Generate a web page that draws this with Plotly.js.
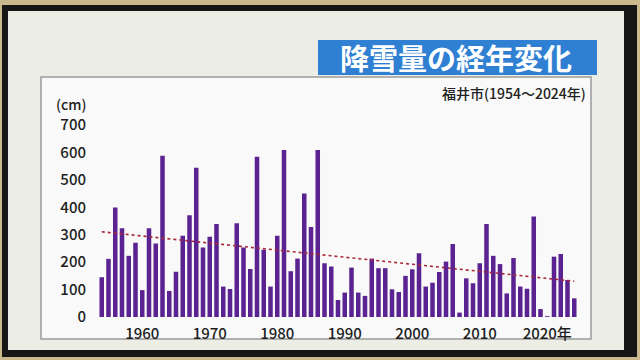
<!DOCTYPE html>
<html>
<head>
<meta charset="utf-8">
<script src="https://cdn.plot.ly/plotly-3.0.1.min.js"></script>
<style>
html,body{margin:0;padding:0;background:#cbb98e;}
#chart{width:640px;height:360px;}
</style>
</head>
<body>
<div id="chart"></div>
<script>
// 福井市 降雪量 (cm), 1954-2024
const years = [];
for (let y = 1954; y <= 2024; y++) years.push(y);
const snowfall = [
  145, 212, 399, 324, 223, 271, 98, 324, 268, 588,   // 1954-1963
  95, 165, 296, 371, 544, 253, 293, 339, 111, 102,   // 1964-1973
  342, 253, 175, 584, 245, 111, 296, 609, 167, 213,  // 1974-1983
  450, 328, 609, 196, 184, 62, 89, 180, 89, 77,      // 1984-1993
  213, 178, 178, 101, 91, 150, 174, 232, 111, 125,   // 1994-2003
  164, 202, 266, 16, 141, 123, 196, 339, 223, 193,   // 2004-2013
  86, 215, 111, 103, 366, 29, 3, 220, 230, 135,      // 2014-2023
  68                                                 // 2024
];
const tickYears = [1960, 1970, 1980, 1990, 2000, 2010, 2020];
const tickLabels = ['1960', '1970', '1980', '1990', '2000', '2010', '2020年'];
const yTicks = [0, 100, 200, 300, 400, 500, 600, 700];

const titleText = '降雪量の経年変化';
const subtitleText = '福井市(1954～2024年)';
const unitText = '(cm)';

// linear trend (least squares)
const n = years.length;
const mx = years.reduce((a, b) => a + b, 0) / n;
const my = snowfall.reduce((a, b) => a + b, 0) / n;
let sxy = 0, sxx = 0;
for (let i = 0; i < n; i++) { sxy += (years[i] - mx) * (snowfall[i] - my); sxx += (years[i] - mx) ** 2; }
const slope = sxy / sxx;
const trendX = [years[0], years[n - 1]];
const trendY = trendX.map(x => my + slope * (x - mx));

const W = 640, H = 360;
const px = v => v / W;
const py = v => 1 - v / H;
const FONT = '"Noto Sans CJK JP", "Noto Sans", sans-serif';

const shapes = [
  {type:'rect', xref:'paper', yref:'paper', x0:px(2), x1:px(637), y0:py(357), y1:py(5), fillcolor:'#161616', line:{width:0}, layer:'below'},
  {type:'rect', xref:'paper', yref:'paper', x0:px(8), x1:px(624), y0:py(350), y1:py(11), fillcolor:'#eceee6', line:{width:0}, layer:'below'},
  {type:'rect', xref:'paper', yref:'paper', x0:px(41), x1:px(591), y0:py(339), y1:py(77), fillcolor:'#f8f9f8', line:{color:'#9a9a9a', width:1.5}, layer:'below'},
  {type:'rect', xref:'paper', yref:'paper', x0:px(318), x1:px(597), y0:py(75), y1:py(40), fillcolor:'#2f7fd2', line:{width:0}, layer:'below'}
];

const annotations = [
  {xref:'paper', yref:'paper', x:px(456), y:py(57), text:'<b>' + titleText + '</b>', showarrow:false,
   xanchor:'center', yanchor:'middle', font:{family:FONT, size:29, color:'#ffffff'}},
  {xref:'paper', yref:'paper', x:px(588), y:py(93), text:subtitleText, showarrow:false,
   xanchor:'right', yanchor:'middle', font:{family:FONT, size:14, weight:500, color:'#222222'}},
  {xref:'paper', yref:'paper', x:px(54), y:py(104), text:unitText, showarrow:false,
   xanchor:'left', yanchor:'middle', font:{family:FONT, size:14, weight:500, color:'#222222'}}
];

const data = [
  {type:'bar', x:years, y:snowfall, marker:{color:'#5b2391'}, hoverinfo:'x+y'},
  {type:'scatter', mode:'lines', x:trendX, y:trendY, line:{color:'#a8283a', width:1.6, dash:'dot'}, hoverinfo:'skip'}
];

const layout = {
  width: W, height: H,
  margin:{l:0, r:0, t:0, b:0},
  paper_bgcolor:'#cbb98e',
  plot_bgcolor:'rgba(0,0,0,0)',
  showlegend:false,
  bargap:0.33,
  xaxis:{
    domain:[px(95), px(581)],
    range:[1953, 2025],
    tickvals:tickYears, ticktext:tickLabels,
    showgrid:false, zeroline:false, showline:false,
    ticks:'outside', ticklen:3, tickcolor:'rgba(0,0,0,0)',
    tickfont:{family:FONT, size:15, weight:500, color:'#1e1e1e'},
    automargin:false, fixedrange:true
  },
  yaxis:{
    domain:[py(317), py(111.3)],
    range:[0, 750],
    tickvals:yTicks,
    showgrid:false, zeroline:false, showline:false,
    ticks:'outside', ticklen:5, tickcolor:'rgba(0,0,0,0)',
    tickfont:{family:FONT, size:15, weight:500, color:'#1e1e1e'},
    automargin:false, fixedrange:true
  },
  shapes: shapes,
  annotations: annotations
};

Plotly.newPlot('chart', data, layout, {staticPlot:true, displayModeBar:false});
</script>
</body>
</html>
